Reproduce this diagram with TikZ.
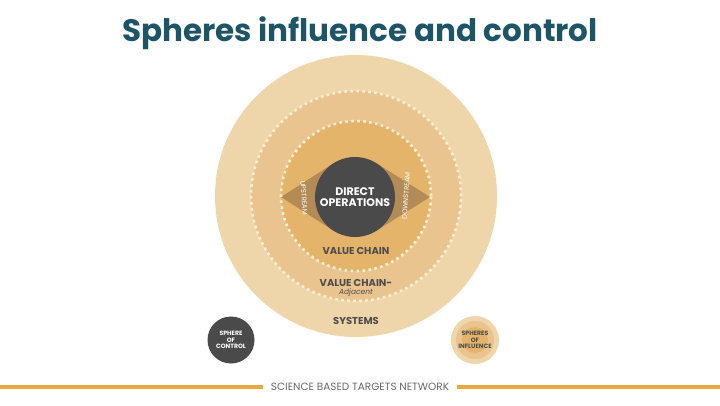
\documentclass[tikz,border=0pt]{standalone}
\usepackage{fontspec}
\setmainfont{Poppins}
\usetikzlibrary{calc}
\definecolor{ringout}{HTML}{EFD5AA}
\definecolor{ringmid}{HTML}{EAC48E}
\definecolor{ringin}{HTML}{E3B46A}
\definecolor{eyecol}{HTML}{B38B56}
\definecolor{dotcol}{HTML}{FBEFD2}
\definecolor{darkop}{HTML}{4A4A4A}
\definecolor{labelgray}{HTML}{4D4D4D}
\definecolor{titleblue}{HTML}{1D5567}
\definecolor{rulecol}{HTML}{E5A93E}
\begin{document}
\begin{tikzpicture}[x=1pt,y=1pt,
    dots/.style={draw=dotcol,line width=2.6pt,dash pattern=on 2.6pt off 3.4pt},
    ringlabel/.style={font=\bfseries\fontsize{10}{11}\selectfont,text=labelgray,inner sep=0pt},
    stream/.style={font=\fontsize{6.8}{7}\selectfont,text=white,inner sep=0pt},
    legend/.style={circle,minimum size=47pt,inner sep=0pt,align=center,
      font=\bfseries\fontsize{6.2}{6.8}\selectfont}]
  \useasboundingbox (0,0) rectangle (720,405);
  % title
  \node[font=\bfseries\fontsize{31}{34}\selectfont,text=titleblue] (title) at (360,372)
    {Spheres influence and control};
  % rings
  \coordinate (c) at (356,209);
  \fill[ringout] (c) circle (141);
  \fill[ringmid] (c) circle (105);
  \fill[ringin] (c) circle (75);
  % the eye behind direct operations
  \coordinate (dc) at (355,208);
  \coordinate (up) at (281,208);
  \coordinate (down) at (430,208);
  \fill[eyecol] (up) -- ($(dc)+(122:40)$) -- ($(dc)+(58:40)$) -- (down)
    -- ($(dc)+(-58:40)$) -- ($(dc)+(-122:40)$) -- cycle;
  \draw[dots] (c) circle (105) (c) circle (75);
  \node[circle,fill=darkop,minimum size=80pt,inner sep=0pt,align=center,text=white,
    font=\bfseries\fontsize{11}{11.5}\selectfont] (dop) at (dc) {DIRECT\\OPERATIONS};
  \node[stream,rotate=-86] (upstream) at (304,207) {UPSTREAM};
  \node[stream,rotate=86] (downstream) at (406,209) {DOWNSTREAM};
  % ring labels
  \node[ringlabel] (vc) at (356,154) {VALUE CHAIN};
  \node[ringlabel] (vca) at (356,122) {VALUE CHAIN-};
  \node[font=\itshape\fontsize{7.5}{8}\selectfont,text=labelgray,inner sep=0pt] (adj) at (356,112) {Adjacent};
  \node[ringlabel] (sys) at (356,84) {SYSTEMS};
  % legend
  \node[legend,fill=darkop,text=white] (ctl) at (231,65) {SPHERE\\OF\\CONTROL};
  \fill[ringout] (475,65) circle (24);
  \fill[ringmid] (475,65) circle (19);
  \fill[ringin] (475,65) circle (13);
  \node[legend,text=labelgray] (inf) at (475,65) {SPHERES\\OF\\INFLUENCE};
  % footer
  \coordinate (lft) at (0,18);
  \coordinate (rgt) at (720,18);
  \node[font=\fontsize{10.5}{11}\selectfont,text=labelgray!85,inner xsep=8pt] (sbtn) at (360,18)
    {SCIENCE BASED TARGETS NETWORK};
  \draw[rulecol,line width=3.5pt] (lft) -- (sbtn.west) (sbtn.east) -- (rgt);
\end{tikzpicture}
\end{document}
